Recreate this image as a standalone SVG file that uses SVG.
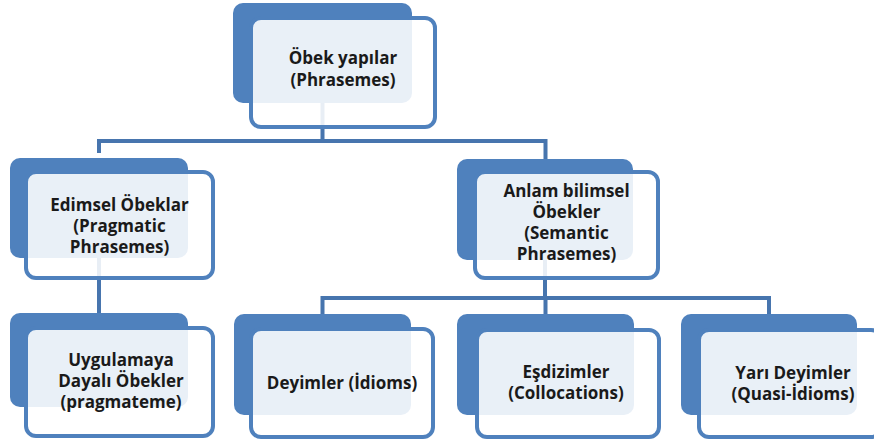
<svg xmlns="http://www.w3.org/2000/svg" width="874" height="441" viewBox="0 0 874 441">
<style>
.back{fill:#4F81BD;}
.front{fill:#FFFFFF;fill-opacity:0.88;stroke:#4F81BD;stroke-width:4;}
.conn{fill:none;stroke:#4775AE;stroke-width:4;}
text{font-family:"Open Sans","DejaVu Sans",sans-serif;font-weight:700;font-size:17px;fill:#1A1A1A;text-anchor:middle;}
</style>
<rect width="874" height="441" fill="#FFFFFF"/>
<g id="connectors">
<path class="conn" d="M322.5,60 V141 M99,153 V141 H545.5 V159"/>
<path class="conn" d="M99,210 V313"/>
<path class="conn" d="M545,210 V298 M322.5,314 V298 H769 V314 M545.5,298 V314"/>
</g>
<g id="node-phrasemes">
<rect class="back" x="233" y="3" width="179" height="100" rx="10"/>
<rect class="front" x="251" y="18" width="184" height="109" rx="10"/>
<text x="343" y="64">Öbek yapılar</text>
<text x="343" y="86">(Phrasemes)</text>
</g>
<g id="node-pragmatic">
<rect class="back" x="10" y="158" width="178" height="100" rx="10"/>
<rect class="front" x="26" y="172" width="187" height="106" rx="10"/>
<text x="119.5" y="211">Edimsel Öbeklar</text>
<text x="119.5" y="232">(Pragmatic</text>
<text x="119.5" y="253">Phrasemes)</text>
</g>
<g id="node-semantic">
<rect class="back" x="457" y="159" width="176" height="101" rx="10"/>
<rect class="front" x="475" y="172" width="183" height="106" rx="10"/>
<text x="566.5" y="197">Anlam bilimsel</text>
<text x="566.5" y="218">Öbekler</text>
<text x="566.5" y="239">(Semantic</text>
<text x="566.5" y="260">Phrasemes)</text>
</g>
<g id="node-pragmateme">
<rect class="back" x="10" y="313" width="178" height="94" rx="10"/>
<rect class="front" x="26" y="328" width="187" height="108" rx="10"/>
<text x="121" y="366">Uygulamaya</text>
<text x="121" y="387">Dayalı Öbekler</text>
<text x="121" y="408">(pragmateme)</text>
</g>
<g id="node-idioms">
<rect class="back" x="234" y="314" width="177" height="101" rx="10"/>
<rect class="front" x="251" y="329" width="182" height="108" rx="10"/>
<text x="342" y="389">Deyimler (İdioms)</text>
</g>
<g id="node-collocations">
<rect class="back" x="457" y="314" width="177" height="101" rx="10"/>
<rect class="front" x="477" y="330" width="182" height="107" rx="10"/>
<text x="566" y="378">Eşdizimler</text>
<text x="566" y="399">(Collocations)</text>
</g>
<g id="node-quasi-idioms">
<rect class="back" x="681" y="314" width="176" height="101" rx="10"/>
<rect class="front" x="699" y="330" width="182" height="107" rx="10"/>
<text x="793" y="379">Yarı Deyimler</text>
<text x="793" y="400">(Quasi-İdioms)</text>
</g>
</svg>
